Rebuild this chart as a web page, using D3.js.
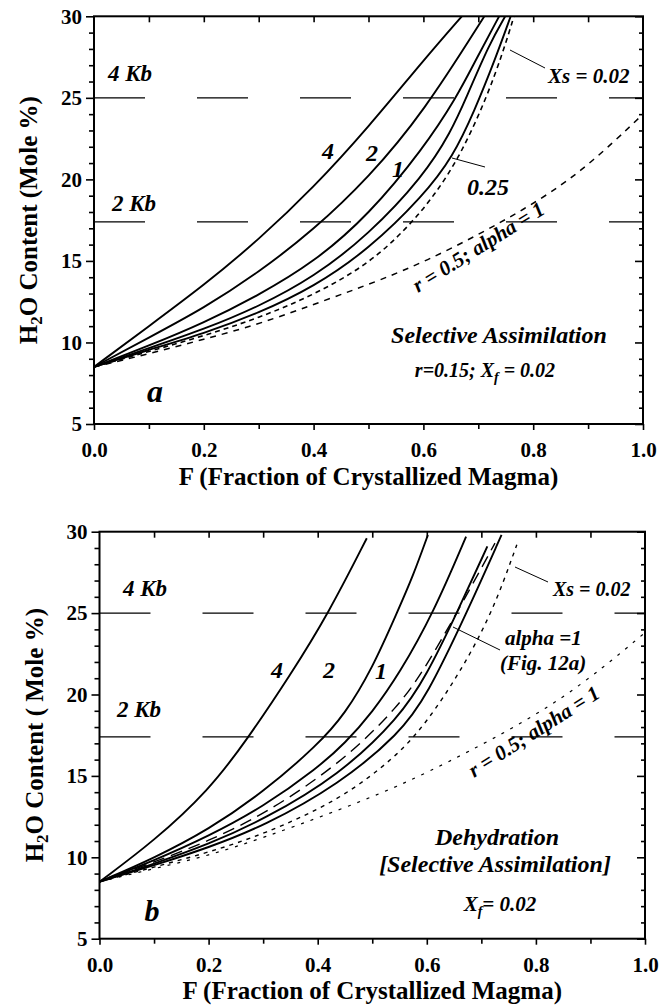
<!DOCTYPE html>
<html>
<head>
<meta charset="utf-8">
<script src="https://cdn.jsdelivr.net/npm/d3@7"></script>
<style>
  body { margin: 0; background: #fff; }
  svg { display: block; }
  svg text { font-family: "Liberation Serif", "Times New Roman", Times, "DejaVu Serif", serif; fill: #000; }
</style>
</head>
<body>
<svg id="chart" width="667" height="1005"></svg>
<script>
// ---- axis ticks ----
const xTickValues = [0, 0.2, 0.4, 0.6, 0.8, 1.0];
const yTickValues = [5, 10, 15, 20, 25, 30];
const pressureLevels = [25, 17.4];
const pressureLabels = ["4 Kb", "2 Kb"];

// ---- panel a: selective assimilation, r = 0.15, Xf = 0.02 ----
// [F, H2O mole %]
const assimR4   = [[0,8.5],[0.1,11.0],[0.2,13.5],[0.3,16.3],[0.4,19.5],[0.5,23.2],[0.6,27.3],[0.67,30]];
const assimR2   = [[0,8.5],[0.1,10.3],[0.2,12.1],[0.3,14.3],[0.4,16.9],[0.5,20.1],[0.6,24.1],[0.711,30]];
const assimR1   = [[0,8.5],[0.1,9.8],[0.2,11.2],[0.3,12.9],[0.4,14.9],[0.5,17.8],[0.6,21.9],[0.66,25.0],[0.695,27.3],[0.738,30]];
const assimR05  = [[0,8.5],[0.1,9.65],[0.2,10.8],[0.3,12.2],[0.4,14.0],[0.5,16.6],[0.6,20.2],[0.65,22.9],[0.678,25.0],[0.72,28.3],[0.749,30]];
const assimR025 = [[0,8.5],[0.1,9.55],[0.2,10.55],[0.3,11.8],[0.4,13.4],[0.5,15.7],[0.6,19.0],[0.654,21.4],[0.693,24.2],[0.73,27.3],[0.759,30]];
const assimXs   = [[0,8.5],[0.1,9.45],[0.2,10.4],[0.3,11.5],[0.4,12.9],[0.5,14.8],[0.57,17.0],[0.62,19.0],[0.668,21.5],[0.715,25.0],[0.745,27.8],[0.765,30]];
const assimR05a1 = [[0,8.5],[0.1,9.3],[0.2,10.2],[0.3,11.1],[0.447,12.9],[0.6,14.8],[0.8,18.4],[0.9,20.8],[1.0,24.0]];

// ---- panel b: dehydration [selective assimilation], Xf = 0.02 ----
const dehydR4    = [[0,8.5],[0.1,11.0],[0.2,14.1],[0.27,17.2],[0.35,21.2],[0.42,25.0],[0.49,29.6]];
const dehydR2    = [[0,8.5],[0.1,9.95],[0.2,11.7],[0.3,14.0],[0.4,16.9],[0.45,18.8],[0.5,21.6],[0.545,25.0],[0.575,27.3],[0.602,29.8]];
const dehydR1    = [[0,8.5],[0.1,9.8],[0.2,11.3],[0.3,13.1],[0.4,15.5],[0.45,17.0],[0.5,18.9],[0.55,21.3],[0.612,25.0],[0.672,29.7]];
const dehydAlpha = [[0,8.5],[0.1,9.7],[0.2,11.0],[0.3,12.6],[0.44,15.7],[0.55,19.3],[0.6,21.8],[0.655,25.0],[0.725,29.3]];
const dehydS4    = [[0,8.5],[0.1,9.6],[0.2,10.8],[0.3,12.3],[0.44,15.05],[0.55,18.6],[0.6,21.2],[0.655,25.0],[0.711,29.1]];
const dehydS5    = [[0,8.5],[0.1,9.5],[0.2,10.6],[0.3,11.9],[0.44,14.5],[0.55,17.6],[0.6,19.9],[0.673,25.0],[0.737,29.8]];
const dehydXs    = [[0,8.5],[0.1,9.4],[0.2,10.3],[0.3,11.4],[0.44,13.5],[0.545,16.2],[0.6,18.3],[0.66,21.3],[0.72,25.0],[0.765,29.2]];
const dehydR05a1 = [[0,8.5],[0.1,9.3],[0.2,10.1],[0.3,11.2],[0.423,12.7],[0.545,14.3],[0.667,16.3],[0.85,19.6],[1.0,23.8]];

const svg = d3.select("#chart");
const SERIF = '"Liberation Serif", "Times New Roman", Times, "DejaVu Serif", serif';

function note(g, x, y, str, size, anchor = "start", italic = true) {
  return g.append("text")
    .attr("x", x).attr("y", y)
    .attr("font-family", SERIF)
    .attr("font-size", size)
    .attr("font-weight", "bold")
    .attr("font-style", italic ? "italic" : "normal")
    .attr("text-anchor", anchor)
    .text(str);
}

function pointer(g, x1, y1, x2, y2) {
  g.append("line").attr("x1", x1).attr("y1", y1).attr("x2", x2).attr("y2", y2)
    .attr("stroke", "#000").attr("stroke-width", 1);
}

function styleAxis(sel) {
  sel.attr("font-family", SERIF);
  sel.select(".domain").remove();
  sel.selectAll("line").attr("stroke", "#000").attr("stroke-width", 1.6);
  sel.selectAll("text")
    .attr("font-family", SERIF).attr("font-weight", "bold")
    .attr("font-size", 21).attr("fill", "#000");
}

function drawPanel(opt) {
  const { id, x, y, curves } = opt;
  const [x0, x1] = x.range();
  const [yb, yt] = y.range();
  const g = svg.append("g").attr("id", id);

  svg.append("clipPath").attr("id", "clip-" + id)
    .append("rect").attr("x", x0).attr("y", yt).attr("width", x1 - x0).attr("height", yb - yt);

  // pressure reference levels
  g.append("g").selectAll("line").data(pressureLevels).join("line")
    .attr("x1", x0).attr("x2", x1)
    .attr("y1", d => y(d)).attr("y2", d => y(d))
    .attr("stroke", "#000").attr("stroke-width", 1.2)
    .attr("stroke-dasharray", "51,52");

  // model curves
  const line = d3.line().x(d => x(d[0])).y(d => y(d[1])).curve(d3.curveBasis);
  g.append("g").attr("clip-path", `url(#clip-${id})`)
    .selectAll("path").data(curves).join("path")
    .attr("d", d => line(d.values))
    .attr("fill", "none").attr("stroke", "#000")
    .attr("stroke-width", d => d.width)
    .attr("stroke-dasharray", d => d.dash || null);

  // frame
  g.append("rect").attr("x", x0).attr("y", yt).attr("width", x1 - x0).attr("height", yb - yt)
    .attr("fill", "none").attr("stroke", "#000").attr("stroke-width", 2);

  // bottom axis (outward ticks)
  g.append("g").attr("transform", `translate(0,${yb})`)
    .call(d3.axisBottom(x).tickValues(xTickValues).tickFormat(d3.format(".1f")).tickSize(6).tickPadding(12))
    .call(styleAxis);
  g.append("g").attr("transform", `translate(0,${yb})`)
    .call(d3.axisBottom(x).tickValues([0.1, 0.3, 0.5, 0.7, 0.9]).tickFormat("").tickSize(5))
    .call(styleAxis);
  // top axis (inward ticks)
  g.append("g").attr("transform", `translate(0,${yt})`)
    .call(d3.axisBottom(x).tickValues(d3.range(1, 10).map(i => i / 10)).tickFormat("").tickSize(6))
    .call(styleAxis);
  // left axis (outward ticks)
  g.append("g").attr("transform", `translate(${x0},0)`)
    .call(d3.axisLeft(y).tickValues(yTickValues).tickSize(8).tickPadding(4))
    .call(styleAxis);
  g.append("g").attr("transform", `translate(${x0},0)`)
    .call(d3.axisLeft(y).tickValues(d3.range(6, 30).filter(v => v % 5)).tickFormat("").tickSize(5))
    .call(styleAxis);
  // right axis (inward ticks)
  g.append("g").attr("transform", `translate(${x1},0)`)
    .call(d3.axisRight(y).tickValues(yTickValues).tickFormat("").tickSize(-8))
    .call(styleAxis);
  g.append("g").attr("transform", `translate(${x1},0)`)
    .call(d3.axisRight(y).tickValues(d3.range(6, 30).filter(v => v % 5)).tickFormat("").tickSize(-4))
    .call(styleAxis);

  // axis titles
  note(g, (x0 + x1) / 2, opt.xTitleY, "F (Fraction of Crystallized Magma)", 25, "middle", false);
  const yt2 = g.append("text")
    .attr("transform", `translate(${opt.yTitleX},${(yt + yb) / 2}) rotate(-90)`)
    .attr("font-family", SERIF)
    .attr("text-anchor", "middle").attr("font-size", 25).attr("font-weight", "bold");
  yt2.append("tspan").text("H");
  yt2.append("tspan").attr("font-size", 17).attr("dy", 5).text("2");
  yt2.append("tspan").attr("dy", -5).text(opt.yTitleRest);

  // pressure labels
  pressureLabels.forEach((s, i) => note(g, opt.kbX[i], opt.kbY[i], s, 23));
  return g;
}

// ---------------- panel a ----------------
const xA = d3.scaleLinear().domain([0, 1]).range([94, 643]);
const yA = d3.scaleLinear().domain([5, 30]).range([424, 16.3]);
const gA = drawPanel({
  id: "panelA", x: xA, y: yA,
  xTitleY: 485, yTitleX: 37, yTitleRest: "O Content (Mole %)",
  kbX: [108, 112], kbY: [81, 211],
  curves: [
    { values: assimR4, width: 1.9 },
    { values: assimR2, width: 1.9 },
    { values: assimR1, width: 1.9 },
    { values: assimR05, width: 1.9 },
    { values: assimR025, width: 1.9 },
    { values: assimXs, width: 1.6, dash: "5,4" },
    { values: assimR05a1, width: 1.5, dash: "6,6" }
  ]
});
note(gA, 328, 159, "4", 24, "middle");
note(gA, 372, 161, "2", 24, "middle");
note(gA, 398, 177, "1", 24, "middle");
note(gA, 467, 195, "0.25", 24);
pointer(gA, 452, 158, 485, 167);
note(gA, 548, 83, "Xs = 0.02", 21);
pointer(gA, 510, 50, 545, 68);
note(gA, 0, 0, "r = 0.5; alpha = 1", 21).attr("transform", "translate(418,293) rotate(-32)");
note(gA, 499, 343, "Selective Assimilation", 24, "middle");
{
  const t = note(gA, 485, 377, "", 20, "middle");
  t.append("tspan").text("r=0.15; X");
  t.append("tspan").attr("font-size", 14).attr("dy", 5).text("f");
  t.append("tspan").attr("dy", -5).text(" = 0.02");
}
note(gA, 155, 402, "a", 32, "middle");

// ---------------- panel b ----------------
const xB = d3.scaleLinear().domain([0, 1]).range([99.5, 645]);
const yB = d3.scaleLinear().domain([5, 30]).range([938.7, 531.7]);
const gB = drawPanel({
  id: "panelB", x: xB, y: yB,
  xTitleY: 999, yTitleX: 43, yTitleRest: "O Content ( Mole %)",
  kbX: [123, 117], kbY: [596, 717],
  curves: [
    { values: dehydR4, width: 1.9 },
    { values: dehydR2, width: 1.9 },
    { values: dehydR1, width: 1.9 },
    { values: dehydS4, width: 1.9 },
    { values: dehydS5, width: 1.9 },
    { values: dehydAlpha, width: 1.4, dash: "12,7" },
    { values: dehydXs, width: 1.4, dash: "4,5" },
    { values: dehydR05a1, width: 1.2, dash: "3,7" }
  ]
});
note(gB, 277, 678, "4", 24, "middle");
note(gB, 329, 678, "2", 24, "middle");
note(gB, 381, 679, "1", 24, "middle");
note(gB, 553, 596, "Xs = 0.02", 20);
pointer(gB, 515, 567, 548, 582);
note(gB, 505, 645, "alpha =1", 21);
note(gB, 500, 670, "(Fig. 12a)", 21);
pointer(gB, 453, 627, 500, 650);
note(gB, 0, 0, "r = 0.5; alpha = 1", 21).attr("transform", "translate(474,778) rotate(-32.5)");
note(gB, 497, 845, "Dehydration", 24, "middle");
note(gB, 495, 872, "[Selective Assimilation]", 24, "middle");
{
  const t = note(gB, 500, 911, "", 21, "middle");
  t.append("tspan").text("X");
  t.append("tspan").attr("font-size", 14).attr("dy", 5).text("f");
  t.append("tspan").attr("dy", -5).text("= 0.02");
}
note(gB, 152, 921, "b", 30, "middle");
</script>
</body>
</html>
